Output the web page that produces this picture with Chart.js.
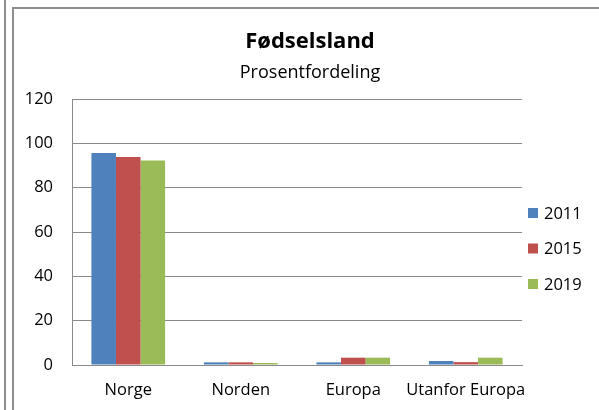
<!DOCTYPE html>
<html>
<head>
<meta charset="utf-8">
<script src="https://cdn.jsdelivr.net/npm/chart.js@4.4.0/dist/chart.umd.min.js"></script>
<style>
  html, body { margin: 0; padding: 0; background: #fff; overflow: hidden; }
  #wrap { position: relative; width: 599px; height: 410px; }
  #line1 { position: absolute; left: 4px; top: 0; width: 2px; height: 410px; background: #8e8e8e; }
  #frame { position: absolute; left: 12px; top: 7px; width: 620px; height: 430px; border: 2px solid #8e8e8e; box-sizing: border-box; }
  canvas { position: absolute; left: 0; top: 0; }
</style>
</head>
<body>
<div id="wrap">
  <div id="line1"></div>
  <div id="frame"></div>
  <canvas id="c" width="599" height="410"></canvas>
</div>
<script>
const title = "Fødselsland";
const subtitle = "Prosentfordeling";
const categories = ["Norge", "Norden", "Europa", "Utanfor Europa"];
const seriesNames = ["2011", "2015", "2019"];
const values2011 = [95.6, 1.2, 1.2, 1.8];
const values2015 = [93.8, 1.2, 3.3, 1.3];
const values2019 = [92.2, 0.9, 3.3, 3.3];
const yTicks = [0, 20, 40, 60, 80, 100, 120];

const colors = ["#4F81BD", "#C0504D", "#9BBB59"];
const FONT = "'Open Sans', sans-serif";

const overlay = {
  id: 'overlay',
  afterDraw(chart) {
    const ctx = chart.ctx;
    ctx.save();
    ctx.fillStyle = '#000';
    ctx.textAlign = 'center';
    ctx.textBaseline = 'alphabetic';
    ctx.font = "bold 22px " + FONT;
    ctx.fillText(title, 310, 48);
    ctx.font = "18px " + FONT;
    ctx.fillText(subtitle, 310, 78);
    // legend
    ctx.textAlign = 'left';
    ctx.textBaseline = 'middle';
    ctx.font = "16.5px " + FONT;
    const rows = [213, 248.5, 284];
    chart.data.datasets.forEach((ds, i) => {
      ctx.fillStyle = ds.backgroundColor;
      ctx.fillRect(528, rows[i] - 5, 10, 10);
      ctx.fillStyle = '#000';
      ctx.fillText(ds.label, 544, rows[i] + 1);
    });
    ctx.restore();
  }
};

new Chart(document.getElementById('c'), {
  type: 'bar',
  data: {
    labels: categories,
    datasets: [
      { label: seriesNames[0], data: values2011, backgroundColor: colors[0] },
      { label: seriesNames[1], data: values2015, backgroundColor: colors[1] },
      { label: seriesNames[2], data: values2019, backgroundColor: colors[2] }
    ]
  },
  options: {
    responsive: false,
    animation: false,
    devicePixelRatio: 1,
    layout: { padding: { left: 0, right: 77, top: 99, bottom: 0 } },
    datasets: { bar: { barPercentage: 1.0, categoryPercentage: 0.655 } },
    plugins: { legend: { display: false }, title: { display: false }, tooltip: { enabled: false } },
    scales: {
      x: {
        afterFit(s) { s.height = 45; },
        grid: { display: false, drawTicks: false },
        border: { display: true, color: '#8a8a8a', width: 1 },
        ticks: { color: '#000', font: { family: FONT, size: 16.5 }, padding: 15, maxRotation: 0, autoSkip: false }
      },
      y: {
        min: 0, max: 120,
        afterFit(s) { s.width = 72; },
        afterBuildTicks(s) { s.ticks = yTicks.map(v => ({ value: v })); },
        grid: { color: '#8a8a8a', lineWidth: 1, drawTicks: false },
        border: { display: true, color: '#8a8a8a', width: 1 },
        ticks: { color: '#000', font: { family: FONT, size: 16.5 }, padding: 19 }
      }
    }
  },
  plugins: [overlay]
});
</script>
</body>
</html>
